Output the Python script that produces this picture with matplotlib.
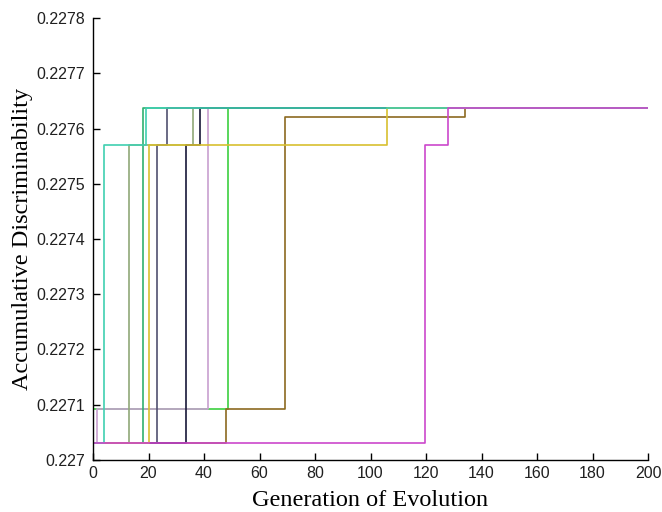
import matplotlib
matplotlib.use('Agg')
from matplotlib import pyplot
import numpy

# fitness levels seen on the curves
L0 = 0.22703
L1 = 0.227093
L2 = 0.22757
L3 = 0.22762
L4 = 0.227637

# each run: generations where the best value changes, and the value from there on
teal_x = [0, 4, 19, 200]
teal_y = [L0, L2, L4, L4]
olive_x = [0, 13, 36, 200]
olive_y = [L0, L2, L4, L4]
medgreen_x = [0, 18, 200]
medgreen_y = [L0, L4, L4]
yellow_x = [0, 20, 106, 200]
yellow_y = [L0, L2, L4, L4]
slate_x = [0, 23, 26.5, 200]
slate_y = [L0, L2, L4, L4]
navy_x = [0, 33.5, 38.5, 200]
navy_y = [L0, L2, L4, L4]
green_x = [0, 48.5, 200]
green_y = [L1, L4, L4]
lavender_x = [0, 1.5, 41.5, 200]
lavender_y = [L0, L1, L4, L4]
brown_x = [0, 48, 69, 134, 200]
brown_y = [L0, L1, L3, L4, L4]
magenta_x = [0, 119.5, 128, 200]
magenta_y = [L0, L2, L4, L4]

runs = [
    (green_x, green_y, '#3cd040'),
    (lavender_x, lavender_y, '#c8a0d0'),
    (brown_x, brown_y, '#8c6a20'),
    (olive_x, olive_y, '#90a878'),
    (medgreen_x, medgreen_y, '#30b070'),
    (slate_x, slate_y, '#505070'),
    (navy_x, navy_y, '#181838'),
    (yellow_x, yellow_y, '#d8c030'),
    (teal_x, teal_y, '#40d0b0'),
    (magenta_x, magenta_y, '#cc48cc'),
]

y_ticks = [0.227, 0.2271, 0.2272, 0.2273, 0.2274, 0.2275, 0.2276, 0.2277, 0.2278]
y_labels = ['0.227', '0.2271', '0.2272', '0.2273', '0.2274', '0.2275', '0.2276', '0.2277', '0.2278']
x_ticks = numpy.arange(0, 201, 20)

fig = pyplot.figure(figsize=(6.62, 5.12), dpi=100)
ax = fig.add_axes([0.1405, 0.1016, 0.8385, 0.8632])

for xs, ys, c in runs:
    ax.step(xs, ys, where='post', color=c, linewidth=1.2)

ax.set_xlim(0, 200)
ax.set_ylim(0.227, 0.2278)
ax.set_xticks(x_ticks)
ax.set_yticks(y_ticks)
ax.set_yticklabels(y_labels)

for s in ['top', 'right']:
    ax.spines[s].set_visible(False)
for s in ['left', 'bottom']:
    ax.spines[s].set_linewidth(1.0)

ax.tick_params(direction='in', length=5, width=1, labelsize=11.5)
ax.tick_params(axis='y', pad=6)
ax.tick_params(axis='x', pad=4)
for lab in ax.get_xticklabels() + ax.get_yticklabels():
    lab.set_family(['Liberation Sans', 'DejaVu Sans'])
    lab.set_color('#202020')

ax.set_xlabel('Generation of Evolution', family=['Liberation Serif', 'DejaVu Serif'],
              fontsize=17.5, labelpad=7)
ax.set_ylabel('Accumulative Discriminability', family=['Liberation Serif', 'DejaVu Serif'],
              fontsize=17.5, labelpad=2)

fig.savefig('out.png')
